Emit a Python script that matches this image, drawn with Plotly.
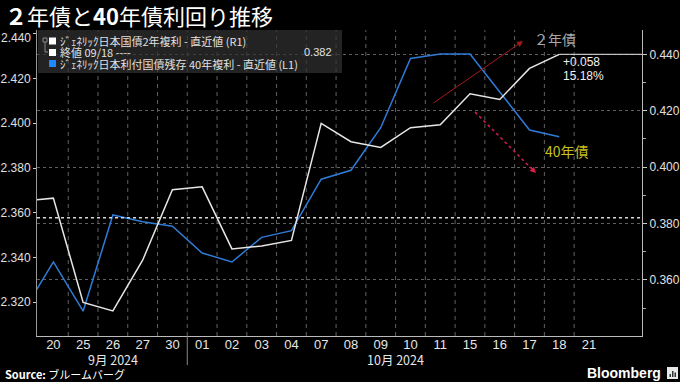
import plotly.graph_objects as go

# ---------------- data ----------------
day_labels = ["19", "20", "25", "26", "27", "30", "01", "02", "03", "04", "07",
              "08", "09", "10", "11", "15", "16", "17", "18", "21"]
month_groups = [("9月 2024", ["20", "25", "26", "27", "30"]),
                ("10月 2024", ["01", "02", "03", "04", "07", "08", "09", "10",
                              "11", "15", "16", "17", "18", "21"])]
# 2-year JGB yield (right axis), 09/19 .. 10/18
yield_2y = [0.388, 0.389, 0.352, 0.349, 0.367, 0.392, 0.393, 0.371, 0.372, 0.374,
            0.4155, 0.409, 0.407, 0.414, 0.415, 0.426, 0.424, 0.435, 0.440]
# 40-year JGB yield (left axis), 09/19 .. 10/18
yield_40y = [2.316, 2.338, 2.316, 2.359, 2.356, 2.354, 2.342, 2.338, 2.349, 2.352,
             2.375, 2.379, 2.398, 2.429, 2.431, 2.431, 2.414, 2.397, 2.394]
prev_close_2y = 0.382
prev_close_label = "終値 09/18 ----"
left_ticks = [2.320, 2.340, 2.360, 2.380, 2.400, 2.420, 2.440]
right_ticks = [0.360, 0.380, 0.400, 0.420, 0.440]
name_2y = "ｼﾞｪﾈﾘｯｸ日本国債2年複利 - 直近値 (R1)"
name_40y = "ｼﾞｪﾈﾘｯｸ日本利付国債残存 40年複利 - 直近値 (L1)"

# ---------------- layout constants ----------------
W, H = 680, 382
L, R, T, B = 37, 38, 30, 46
PW, PH = W - L - R, H - T - B
def px(x):
    return (x - L) / PW
def py(y):
    return (H - B - y) / PH

NUM = "Liberation Sans"
JP = "Noto Sans CJK JP"
WHITE = "#e6e6e6"
BLUE = "#2f7bd6"

xpos = list(range(-1, len(yield_2y) - 1))
tick_idx = [day_labels.index(d) - 1 for d in day_labels[1:]]
x_range = [-0.55, 19.78]

fig = go.Figure()
fig.add_trace(go.Scatter(x=xpos, y=yield_40y, mode="lines", yaxis="y",
                         line=dict(color=BLUE, width=1.5), name=name_40y,
                         showlegend=False))
fig.add_trace(go.Scatter(x=xpos, y=yield_2y, mode="lines", yaxis="y2",
                         line=dict(color=WHITE, width=1.5), name=name_2y,
                         showlegend=False))

shapes = []
# vertical dashed category separators
for i in range(len(tick_idx) - 1):
    shapes.append(dict(type="line", xref="x", yref="paper", x0=tick_idx[i] + 0.5,
                       x1=tick_idx[i] + 0.5, y0=0, y1=1, layer="below",
                       line=dict(color="#606060", width=1, dash="4px,4px")))
# month separator
first_oct = day_labels.index(month_groups[1][1][0]) - 1
shapes.append(dict(type="line", xref="x", yref="paper", x0=first_oct - 0.5,
                   x1=first_oct - 0.5, y0=0, y1=py(365), line=dict(color="#888", width=1)))
# previous close line
shapes.append(dict(type="line", xref="paper", yref="y2", x0=0, x1=1,
                   y0=prev_close_2y, y1=prev_close_2y,
                   line=dict(color="#d8d8d8", width=1.5, dash="dot")))
# last value line
shapes.append(dict(type="line", xref="x", yref="y2", x0=xpos[-1], x1=x_range[1],
                   y0=yield_2y[-1], y1=yield_2y[-1], line=dict(color=WHITE, width=1)))
# legend box
shapes.append(dict(type="rect", xref="paper", yref="paper", x0=px(38), x1=px(342),
                   y0=py(73), y1=py(30), fillcolor="rgba(48,48,48,0.72)",
                   line=dict(width=0)))
# legend tree icon
shapes.append(dict(type="rect", xref="paper", yref="paper", x0=px(43), x1=px(47),
                   y0=py(42), y1=py(38), line=dict(color="#888", width=1)))
shapes.append(dict(type="path", xref="paper", yref="paper",
                   path=f"M {px(45)} {py(42)} L {px(45)} {py(52)} L {px(48)} {py(52)}",
                   line=dict(color="#888", width=1)))
# legend squares
for yc, col in [(41, "#ffffff"), (52.5, "#ffffff"), (63.5, "#1e88ff")]:
    shapes.append(dict(type="rect", xref="paper", yref="paper", x0=px(49), x1=px(56),
                       y0=py(yc + 3.5), y1=py(yc - 3.5), fillcolor=col,
                       line=dict(width=0)))
# dotted red arrow shaft
shapes.append(dict(type="line", xref="paper", yref="paper", x0=px(475), y0=py(112),
                   x1=px(533), y1=py(170), line=dict(color="#d8204c", width=1.5, dash="dot")))
# Bloomberg icon
shapes.append(dict(type="rect", xref="paper", yref="paper", x0=px(667), x1=px(678),
                   y0=py(379), y1=py(367), fillcolor="#e8e8e8", line=dict(width=0)))
for bx, bt in [(669.5, 374), (672, 371), (674.5, 372.5)]:
    shapes.append(dict(type="rect", xref="paper", yref="paper", x0=px(bx), x1=px(bx + 1.5),
                       y0=py(377), y1=py(bt), fillcolor="#333", line=dict(width=0)))

ann = []
def text(x, y, s, size, color="#ffffff", xanchor="left", family=JP):
    ann.append(dict(xref="paper", yref="paper", x=px(x), y=py(y), text=s,
                    showarrow=False, xanchor=xanchor, yanchor="middle",
                    font=dict(size=size, color=color, family=family)))

# title
text(3, 15, "<b>２</b>年債と<b>40</b>年債利回り推移", 22)
# legend text
text(58, 41, name_2y, 11, "#e0e0e0")
text(58, 52.5, prev_close_label, 11, "#e0e0e0")
text(334, 52.5, f"{prev_close_2y:.3f}", 11, "#e0e0e0", "right", NUM)
text(58, 63.5, name_40y, 11, "#e0e0e0")
# top left tick label, nudged below the top edge as in the original
text(33, 38, f"{left_ticks[-1]:.3f}", 12, "#e0e0e0", "right", NUM)
# annotations
text(555, 39, "２年債", 14, "#a8a8a8", "center")
text(567, 151, "40年債", 14, "#c8c020", "center")
chg = yield_2y[-1] - prev_close_2y
text(561, 62, f"{chg:+.3f}", 12, "#f0f0f0", "left", NUM)
text(561, 75.5, f"{chg / prev_close_2y * 100:.2f}%", 12, "#f0f0f0", "left", NUM)
# month labels
for lab, ds in month_groups:
    idx = [day_labels.index(d) - 1 for d in ds]
    ann.append(dict(xref="x", yref="paper", x=(idx[0] + idx[-1]) / 2, y=py(359),
                    text=lab, showarrow=False, xanchor="center", yanchor="middle",
                    font=dict(size=12.5, color="#e6e6e6", family=JP)))
# source & brand
text(3, 374, "<b>Source:</b> ブルームバーグ", 11, "#ffffff")
text(663, 373, "<b>Bloomberg</b>", 14, "#ffffff", "right", NUM)
# arrows
ann.append(dict(xref="paper", yref="paper", x=px(523), y=py(41), ax=432 - 523, ay=104 - 41,
                text="", showarrow=True, arrowhead=2, arrowsize=1.2, arrowwidth=1,
                arrowcolor="#a81818"))
ann.append(dict(xref="paper", yref="paper", x=px(536), y=py(173), ax=-7, ay=-7,
                text="", showarrow=True, arrowhead=2, arrowsize=1.2, arrowwidth=1,
                arrowcolor="#d8204c"))

left_text = [f"{v:.3f}" for v in left_ticks[:-1]] + [""]

fig.update_layout(
    width=W, height=H, margin=dict(l=L, r=R, t=T, b=B, pad=0),
    paper_bgcolor="#000000", plot_bgcolor="#000000",
    showlegend=False, shapes=shapes, annotations=ann,
    xaxis=dict(range=x_range, tickmode="array", tickvals=tick_idx, ticktext=day_labels[1:],
               showgrid=False, zeroline=False, showline=True, linecolor="#bbbbbb",
               linewidth=1, ticks="", ticklabelstandoff=-4,
               tickfont=dict(size=13, color="#e6e6e6", family=NUM),
               automargin=False),
    yaxis=dict(range=[2.3049, 2.4417], tickmode="array", tickvals=left_ticks,
               ticktext=left_text, showgrid=False, zeroline=False, showline=True,
               linecolor="#999999", ticks="outside", ticklen=3, tickcolor="#cccccc",
               tickfont=dict(size=12, color="#e0e0e0", family=NUM), automargin=False),
    yaxis2=dict(range=[0.34011, 0.44862], overlaying="y", side="right", tickmode="array",
                tickvals=right_ticks, tickformat=".3f", showgrid=True, gridcolor="#606060",
                griddash="dot", gridwidth=1, zeroline=False, showline=True,
                linecolor="#bbbbbb", ticks="outside", ticklen=4, tickcolor="#cccccc",
                minor=dict(tickmode="array", tickvals=[0.35, 0.37, 0.39, 0.41, 0.43],
                           ticks="outside", ticklen=3, tickcolor="#aaaaaa", showgrid=False),
                tickfont=dict(size=12, color="#e0e0e0", family=NUM), automargin=False),
)

fig.write_html("out.html", config={"displayModeBar": False},
               post_script="document.body.style.margin='0';document.body.style.background='#000';")
